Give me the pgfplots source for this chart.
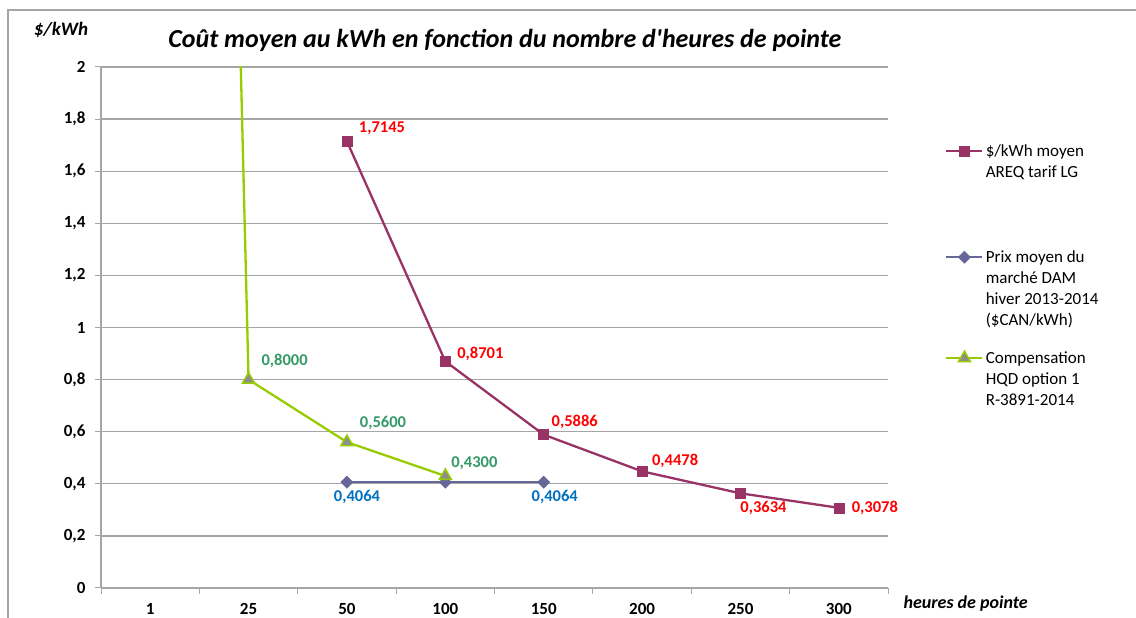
\documentclass[border=0pt]{standalone}
\usepackage{fontspec}
\setmainfont{Carlito}[Ligatures=TeXOff]
\usepackage{pgfplots}
\pgfplotsset{compat=1.18}
\definecolor{mag}{RGB}{153,51,102}
\definecolor{dia}{RGB}{102,102,153}
\definecolor{grn}{RGB}{153,204,0}
\definecolor{mk}{RGB}{140,140,140}
\definecolor{lblred}{RGB}{255,0,0}
\definecolor{lblgrn}{RGB}{51,153,102}
\definecolor{lblblu}{RGB}{0,112,192}
\definecolor{gridc}{RGB}{165,165,165}
\newcommand{\lab}{\bfseries\fontsize{16.5}{19}\selectfont}
\begin{document}
\begin{tikzpicture}
\path[use as bounding box] (0,0) rectangle (1136pt,618pt);
\draw[gridc, line width=1.3pt] (8pt,-10pt) -- (8pt,608pt) -- (1150pt,608pt);
\node[font=\bfseries\itshape\fontsize{26}{30}\selectfont] at (505pt,578pt) {Coût moyen au kWh en fonction du nombre d'heures de pointe};
\node[font=\bfseries\itshape\fontsize{19}{22}\selectfont] at (61pt,588pt) {\$/kWh};
\node[font=\bfseries\itshape\fontsize{18}{22}\selectfont, anchor=west] at (900pt,14pt) {heures de pointe};
\begin{axis}[at={(101pt,30pt)}, anchor=south west, scale only axis,
  width=787pt, height=521pt,
  clip mode=individual,
  xmin=-0.5, xmax=7.5, ymin=0, ymax=2,
  xtick={0,...,7}, xticklabels={1,25,50,100,150,200,250,300},
  minor xtick={-0.5,0.5,...,7.5},
  major x tick style={draw=none},
  minor x tick style={gridc, line width=1pt},
  minor tick length=6pt,
  ytick={0,0.2,...,2.01},
  ytick style={gridc, line width=1pt},
  major tick length=6pt,
  tick align=outside,
  axis x line*=bottom, axis y line*=left,
  axis line style={gridc, line width=1.3pt, -},
  ymajorgrids, grid style={gridc, line width=1.3pt},
  /pgf/number format/.cd, use comma, fixed, precision=1, assume math mode=true,
  /pgfplots/.cd,
  ticklabel style={font=\bfseries\fontsize{17}{20}\selectfont},
  xticklabel style={yshift=-6pt},
  yticklabel style={xshift=-6pt},
  legend style={draw=none, fill=none, at={(1.0724,0.858)}, anchor=north west,
    inner sep=0pt, column sep=0pt, row sep=0pt,
    font=\fontsize{17}{21}\selectfont,
    cells={anchor=base west, inner sep=0pt, text height=13pt}},
  legend image code/.code={\draw[mark repeat=2,mark phase=2,#1] plot coordinates {(0pt,5pt) (18pt,5pt) (36pt,5pt)};},
]
\addplot[mag, line width=2.3pt, mark=square*, mark size=5pt, mark options={fill=mag, draw=mag, line width=0.5pt}]
  coordinates {(2,1.7145) (3,0.8701) (4,0.5886) (5,0.4478) (6,0.3634) (7,0.3078)};
\addlegendentry[text depth=89pt]{{\parbox[t]{150pt}{\$/kWh moyen\\AREQ tarif LG}}}
\addplot[dia, line width=2.6pt, mark=square*, mark size=4.3pt, mark options={rotate=45, fill=dia, draw=dia, line width=0.5pt}]
  coordinates {(2,0.4064) (3,0.4064) (4,0.4064)};
\addlegendentry[text depth=84pt]{{\parbox[t]{150pt}{Prix moyen du\\marché DAM\\hiver 2013-2014\\(\$CAN/kWh)}}}
\addplot[grn, line width=2.3pt, mark=triangle*, mark size=7pt, mark options={fill=mk, draw=grn, line width=1.5pt}]
  coordinates {(0,16) (1,0.8) (2,0.56) (3,0.43)};
\addlegendentry[text depth=50pt]{{\parbox[t]{150pt}{Compensation\\HQD option 1\\R-3891-2014}}}
% data labels
\node[lblred, font=\lab, xshift=35pt, yshift=13pt] at (axis cs:2,1.7145) {1,7145};
\node[lblred, font=\lab, xshift=35pt, yshift=7pt] at (axis cs:3,0.8701) {0,8701};
\node[lblred, font=\lab, xshift=31pt, yshift=13pt] at (axis cs:4,0.5886) {0,5886};
\node[lblred, font=\lab, xshift=33pt, yshift=10pt] at (axis cs:5,0.4478) {0,4478};
\node[lblred, font=\lab, xshift=23pt, yshift=-15pt] at (axis cs:6,0.3634) {0,3634};
\node[lblred, font=\lab, xshift=36pt, yshift=0pt] at (axis cs:7,0.3078) {0,3078};
\node[lblgrn, font=\lab, xshift=36pt, yshift=19pt] at (axis cs:1,0.8) {0,8000};
\node[lblgrn, font=\lab, xshift=36pt, yshift=19pt] at (axis cs:2,0.56) {0,5600};
\node[lblgrn, font=\lab, xshift=29pt, yshift=13pt] at (axis cs:3,0.43) {0,4300};
\node[lblblu, font=\lab, xshift=10pt, yshift=-15pt] at (axis cs:2,0.4064) {0,4064};
\node[lblblu, font=\lab, xshift=11pt, yshift=-15pt] at (axis cs:4,0.4064) {0,4064};
\end{axis}
\end{tikzpicture}
\end{document}
